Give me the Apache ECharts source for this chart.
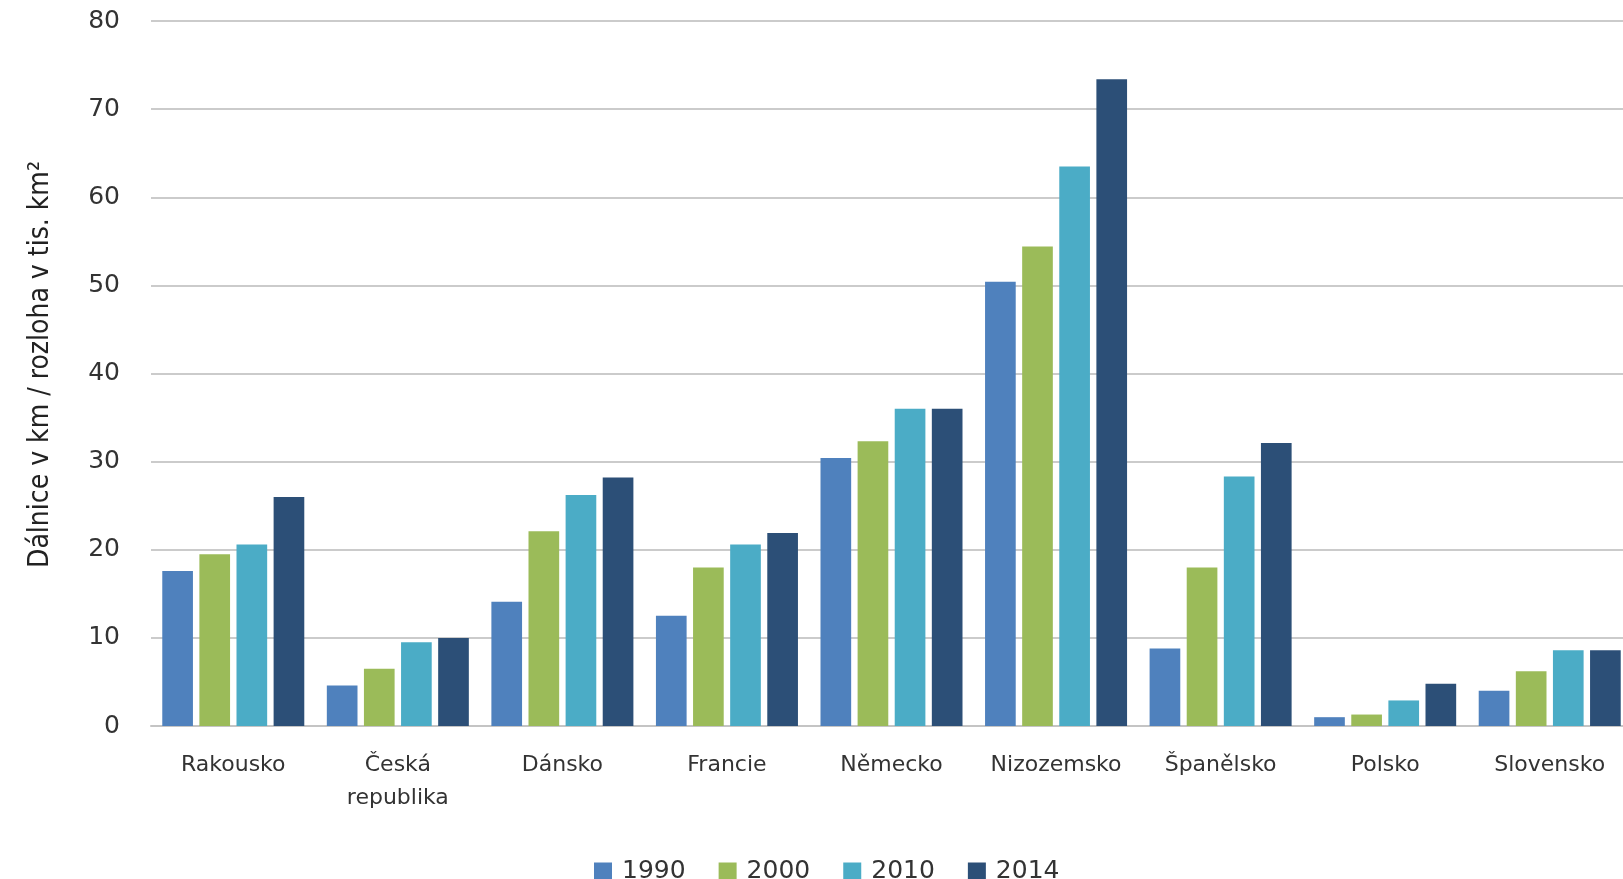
<!DOCTYPE html>
<html><head><meta charset="utf-8">
<script src="https://cdn.jsdelivr.net/npm/echarts@6/dist/echarts.min.js"></script>
<style>html,body{margin:0;padding:0;background:#fff;overflow:hidden;width:1623px;height:879px}#c{width:1660px;height:879px}</style>
</head><body><div id="c"></div>
<script>
const categories = ['Rakousko','Česká\nrepublika','Dánsko','Francie','Německo','Nizozemsko','Španělsko','Polsko','Slovensko'];
const years = ['1990','2000','2010','2014'];
const v1990 = [17.6, 4.6, 14.1, 12.5, 30.4, 50.4, 8.8, 1.0, 4.0];
const v2000 = [19.5, 6.5, 22.1, 18.0, 32.3, 54.4, 18.0, 1.3, 6.2];
const v2010 = [20.6, 9.5, 26.2, 20.6, 36.0, 63.5, 28.3, 2.9, 8.6];
const v2014 = [26.0, 10.0, 28.2, 21.9, 36.0, 73.4, 32.1, 4.8, 8.6];
const yTicks = [0,10,20,30,40,50,60,70,80];
const colors = ['#4f81bd','#9bbb59','#4bacc6','#2c4f77'];
const chart = echarts.init(document.getElementById('c'));
const seriesData = [v1990, v2000, v2010, v2014];
chart.setOption({
  animation:false,
  color: colors,
  grid:{left:151, width:1481, top:21, bottom:153, containLabel:false},
  legend:{
    top:854, left:589, itemWidth:18, itemHeight:18, itemGap:33,
    icon:'rect',
    textStyle:{fontFamily:'DejaVu Sans', fontSize:25, color:'#333', padding:[0,0,0,5]},
    data: years
  },
  xAxis:{
    type:'category', data:categories,
    axisTick:{show:false},
    axisLine:{lineStyle:{color:'#c4c4c4', width:2}},
    axisLabel:{fontFamily:'DejaVu Sans', fontSize:22, color:'#333', margin:23, lineHeight:33, interval:0}
  },
  yAxis:{
    type:'value', min:yTicks[0], max:yTicks[yTicks.length-1], interval:10,
    name:'Dálnice v km / rozloha v tis. km²',
    nameLocation:'middle', nameGap:96, nameRotate:90,
    nameTextStyle:{fontFamily:"'DejaVu Sans Condensed','Liberation Sans Narrow','Roboto Condensed',sans-serif", fontSize:28, color:'#222', padding:[0,0,0,18]},
    axisLine:{show:false}, axisTick:{show:false},
    axisLabel:{fontFamily:'DejaVu Sans', fontSize:25, color:'#333', margin:31},
    splitLine:{lineStyle:{color:'#cbcbcb', width:2}}
  },
  series: years.map((y,i)=>({
    name:y, type:'bar', data:seriesData[i],
    barGap:'21%', barCategoryGap:'13.7%'
  }))
});
</script></body></html>
